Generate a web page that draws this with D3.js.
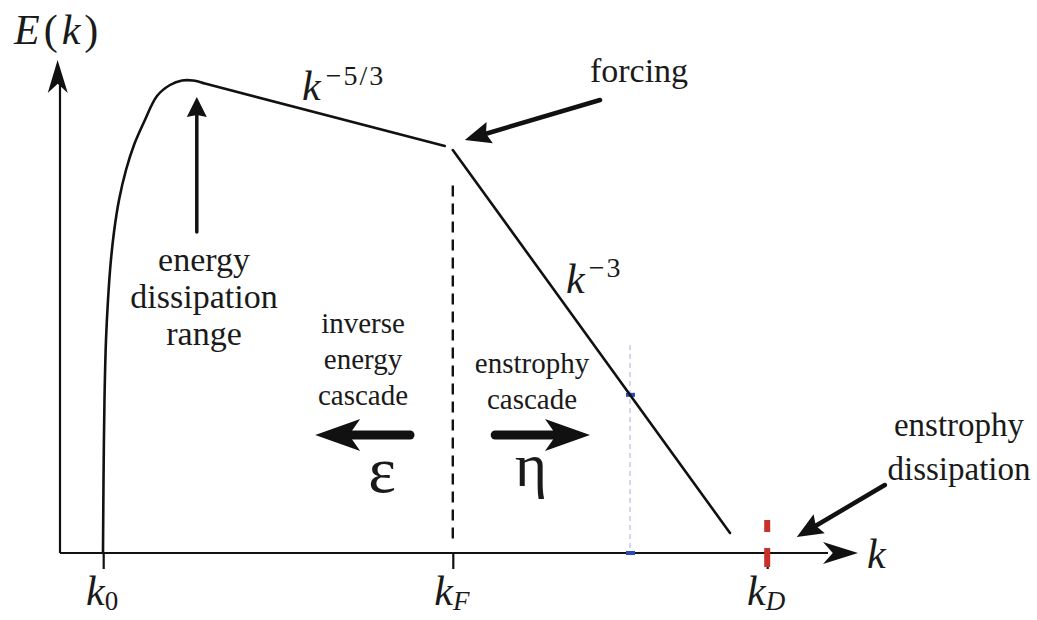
<!DOCTYPE html>
<html>
<head>
<meta charset="utf-8">
<script src="https://cdn.jsdelivr.net/npm/d3@7"></script>
<style>
  html, body { margin: 0; padding: 0; background: #fff; }
  svg { display: block; }
</style>
</head>
<body>
<svg id="chart" width="1037" height="620"></svg>
<script>
// ---- spectrum values (k and E in arbitrary schematic units) ----

// marked wavenumbers on the k axis
const markNames = ["0", "F", "D"];
const markK = [5.4, 49.1, 88.4];

// large-scale end: sharp rise from k0 to the spectral peak
const lowK = [5.375, 5.44, 5.56, 5.75, 6.0, 6.31, 6.75, 7.375, 8.25, 9.25, 10.5, 12.125, 13.75, 15.25, 16.625, 17.875];
const lowE = [0.0, 14.6, 30.6, 42.6, 50.6, 57.6, 64.2, 70.6, 76.6, 81.6, 86.2, 91.4, 93.6, 94.5, 94.5, 94.0];

// inverse energy cascade range, E ~ k^-5/3
const inverseK = [17.875, 48.1];
const inverseE = [94.0, 81.4];

// enstrophy cascade range, E ~ k^-3
const enstrophyK = [49.1, 83.75];
const enstrophyE = [80.6, 4.0];

// reference wavenumber inside the enstrophy range
const refK = 71.25;
const refTopE = 41.6;

// ---- fonts ----
const SERIF = "'Liberation Serif', 'DejaVu Serif', 'Times New Roman', serif";
const ink = "#111";
const textInk = "#1a1a1a";

// ---- scales ----
const x = d3.scaleLinear().domain([0, 100]).range([60, 860]);
const y = d3.scaleLinear().domain([0, 100]).range([553, 53]);

const svg = d3.select("#chart");

function txt(g, italic) {
  return g.append("text")
    .attr("font-family", SERIF)
    .attr("font-style", italic ? "italic" : "normal")
    .attr("fill", textInk);
}

// filled arrow head with a slight notch at the back
function head(g, x1, y1, x2, y2, L, W, notch) {
  const dx = x2 - x1, dy = y2 - y1, len = Math.hypot(dx, dy);
  const ux = dx / len, uy = dy / len, nx = -uy, ny = ux;
  const bx = x2 - ux * L, by = y2 - uy * L;
  const pts = [
    [x2, y2],
    [bx + nx * W, by + ny * W],
    [x2 - ux * L * notch, y2 - uy * L * notch],
    [bx - nx * W, by - ny * W]
  ];
  g.append("polygon")
    .attr("points", pts.map(p => p.join(",")).join(" "))
    .attr("fill", ink);
}

// arrow between two points given in data units
function arrow(g, a, b, shaft, L, W, notch) {
  const x1 = x(a[0]), y1 = y(a[1]), x2 = x(b[0]), y2 = y(b[1]);
  const len = Math.hypot(x2 - x1, y2 - y1);
  const ux = (x2 - x1) / len, uy = (y2 - y1) / len;
  g.append("line")
    .attr("x1", x1).attr("y1", y1)
    .attr("x2", x2 - ux * L * notch).attr("y2", y2 - uy * L * notch)
    .attr("stroke", ink).attr("stroke-width", shaft).attr("stroke-linecap", "round");
  head(g, x1, y1, x2, y2, L, W, notch);
}

// ---- axes ----
const axes = svg.append("g");
axes.append("line")
  .attr("x1", x(0)).attr("y1", y(0)).attr("x2", x(0)).attr("y2", y(94))
  .attr("stroke", ink).attr("stroke-width", 2.2);
head(axes, x(0), y(0), x(-0.3), y(98.6), 33, 10, 0.72);

axes.append("line")
  .attr("x1", x(0)).attr("y1", y(0)).attr("x2", x(96)).attr("y2", y(0))
  .attr("stroke", ink).attr("stroke-width", 2.2);
head(axes, x(0), y(0), x(99.75), y(0), 35, 11, 0.72);

// tick marks at k0, kF, kD
const tickAxis = d3.axisBottom(x).tickValues(markK).tickSize(16).tickSizeOuter(0).tickFormat("");
const tg = svg.append("g").attr("transform", `translate(0,${y(0)})`).call(tickAxis);
tg.select(".domain").remove();
tg.selectAll(".tick line").attr("stroke", ink).attr("stroke-width", 2.2);

// tick labels k_0, k_F, k_D
markK.forEach((k, i) => {
  const t = txt(svg, true)
    .attr("x", x(k) - 1).attr("y", 605)
    .attr("text-anchor", "middle")
    .attr("font-size", 42);
  t.append("tspan").text("k");
  t.append("tspan")
    .attr("font-size", 27)
    .attr("dy", 5)
    .attr("font-style", i === 0 ? "normal" : "italic")
    .text(markNames[i]);
});

// axis titles
const eLabel = txt(svg, true).attr("x", 14).attr("y", 44).attr("font-size", 42)
  .attr("letter-spacing", 4);
eLabel.append("tspan").text("E");
eLabel.append("tspan").attr("font-style", "normal").text("(");
eLabel.append("tspan").text("k");
eLabel.append("tspan").attr("font-style", "normal").text(")");

txt(svg, true).attr("x", 867).attr("y", 568).attr("font-size", 42).text("k");

// ---- dashed guide at the forcing wavenumber ----
svg.append("line")
  .attr("x1", x(markK[1])).attr("x2", x(markK[1]))
  .attr("y1", y(73.5)).attr("y2", y(2.5))
  .attr("stroke", ink).attr("stroke-width", 2.4)
  .attr("stroke-dasharray", "11 7");

// ---- reference wavenumber in the enstrophy range ----
const refLine = svg.append("g");
refLine.append("line")
  .attr("x1", x(refK)).attr("x2", x(refK))
  .attr("y1", y(refTopE)).attr("y2", y(0))
  .attr("stroke", "#6f7fd0").attr("stroke-width", 1)
  .attr("stroke-dasharray", "5 4").attr("opacity", 0.6);
const refE = d3.scaleLinear().domain(enstrophyK).range(enstrophyE)(refK);
[refE, 0].forEach(e => {
  refLine.append("rect")
    .attr("x", x(refK) - 4).attr("width", 9)
    .attr("y", y(e) - 2).attr("height", 4)
    .attr("fill", "#2c4bb5");
});

// ---- spectrum ----
const line = d3.line().x(d => x(d[0])).y(d => y(d[1]));
const lowPts = lowK.map((k, i) => [k, lowE[i]]);
svg.append("path")
  .attr("d", d3.line().x(d => x(d[0])).y(d => y(d[1])).curve(d3.curveCatmullRom.alpha(0.5))(lowPts))
  .attr("fill", "none").attr("stroke", ink).attr("stroke-width", 2.6)
  .attr("stroke-linecap", "round").attr("stroke-linejoin", "round");
svg.append("path")
  .attr("d", line(inverseK.map((k, i) => [k, inverseE[i]])))
  .attr("fill", "none").attr("stroke", ink).attr("stroke-width", 2.6)
  .attr("stroke-linecap", "round");
svg.append("path")
  .attr("d", line(enstrophyK.map((k, i) => [k, enstrophyE[i]])))
  .attr("fill", "none").attr("stroke", ink).attr("stroke-width", 2.6)
  .attr("stroke-linecap", "round");

// ---- dissipation scale marker ----
svg.append("rect")
  .attr("x", x(markK[2]) - 3).attr("width", 6)
  .attr("y", y(6.6)).attr("height", y(4.2) - y(6.6))
  .attr("fill", "#c8302b");
svg.append("rect")
  .attr("x", x(markK[2]) - 3).attr("width", 6)
  .attr("y", y(1.0)).attr("height", y(-2.8) - y(1.0))
  .attr("fill", "#c8302b");

// ---- slope labels ----
const s1 = txt(svg, true).attr("x", 302).attr("y", 100).attr("font-size", 42);
s1.append("tspan").text("k");
s1.append("tspan").attr("font-style", "normal").attr("font-size", 28).attr("dx", 5).attr("dy", -15)
  .attr("letter-spacing", 2).text("\u22125/3");

const s2 = txt(svg, true).attr("x", 566).attr("y", 293).attr("font-size", 42);
s2.append("tspan").text("k");
s2.append("tspan").attr("font-style", "normal").attr("font-size", 28).attr("dx", 4).attr("dy", -16)
  .attr("letter-spacing", 2).text("\u22123");

// ---- annotations ----
const ann = svg.append("g");

// forcing
txt(ann, false).attr("x", 639).attr("y", 82)
  .attr("text-anchor", "middle").attr("font-size", 34).text("forcing");
arrow(ann, [67.5, 90.6], [50.6, 82.6], 4.5, 26, 11, 0.85);

// energy dissipation range
arrow(ann, [17.1, 64.2], [17.1, 91.2], 3.5, 20, 10, 0.9);
["energy", "dissipation", "range"].forEach((s, i) => {
  txt(ann, false)
    .attr("x", 204).attr("y", 271 + i * 37)
    .attr("text-anchor", "middle").attr("font-size", 34).text(s);
});

// cascade directions
["inverse", "energy", "cascade"].forEach((s, i) => {
  txt(ann, false)
    .attr("x", 363).attr("y", 333 + i * 36)
    .attr("text-anchor", "middle").attr("font-size", 29).text(s);
});
["enstrophy", "cascade"].forEach((s, i) => {
  txt(ann, false)
    .attr("x", 532).attr("y", 373 + i * 36)
    .attr("text-anchor", "middle").attr("font-size", 29).text(s);
});
arrow(ann, [43.75, 23.6], [31.9, 23.6], 9, 45, 16, 0.75);
arrow(ann, [54.4, 23.6], [66.25, 23.6], 9, 45, 16, 0.75);

txt(ann, false).attr("x", 382).attr("y", 492)
  .attr("text-anchor", "middle").attr("font-size", 66).text("\u03b5");
txt(ann, false).attr("x", 531).attr("y", 486)
  .attr("text-anchor", "middle").attr("font-size", 62).text("\u03b7");

// enstrophy dissipation
["enstrophy", "dissipation"].forEach((s, i) => {
  txt(ann, false)
    .attr("x", 959).attr("y", 436 + i * 44)
    .attr("text-anchor", "middle").attr("font-size", 33).text(s);
});
arrow(ann, [103.1, 13.6], [92.1, 3.2], 4.5, 26, 11, 0.85);
</script>
</body>
</html>
